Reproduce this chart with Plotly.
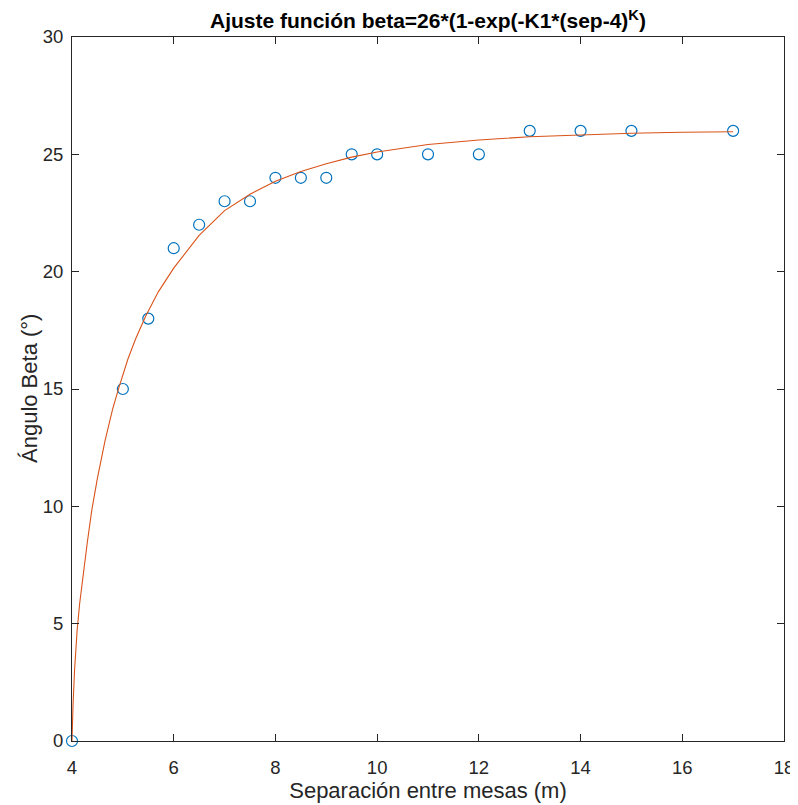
import plotly.graph_objects as go

# Measured data points
sep = [4, 5, 5.5, 6, 6.5, 7, 7.5, 8, 8.5, 9, 9.5, 10, 11, 12, 13, 14, 15, 17]
beta = [0, 15, 18, 21, 22, 23, 23, 24, 24, 24, 25, 25, 25, 25, 26, 26, 26, 26]

# Fitted curve, values
fit_x = [4.0, 4.005, 4.02, 4.05, 4.1, 4.15, 4.2, 4.3, 4.39, 4.5, 4.65, 4.8, 4.92,
         5.1, 5.25, 5.445, 5.7, 6.0, 6.5, 7.0, 7.5, 8.0, 8.5, 9.0, 9.5, 10.0,
         11.0, 12.0, 13.0, 14.0, 15.0, 16.0, 17.0]
fit_y = [0.0, 0.5, 1.5, 3.0, 4.7, 5.85, 6.8, 8.45, 9.85, 11.2, 12.8, 14.15, 15.05,
         16.28, 17.13, 18.09, 19.15, 20.15, 21.55, 22.6, 23.3, 23.85, 24.27, 24.6, 24.88, 25.1,
         25.42, 25.61, 25.75, 25.84, 25.9, 25.94, 25.96]

x_ticks = [4, 6, 8, 10, 12, 14, 16, 18]
y_ticks = [0, 5, 10, 15, 20, 25, 30]

FONT = "Arial, Liberation Sans, sans-serif"

# page has an 8px body margin; figure is sized to fit inside the window
W, H = 790, 797
L, R, T, B = 64, 14, 29, 64
plot_w = W - L - R

fig = go.Figure()
fig.add_trace(go.Scatter(
    x=sep, y=beta, mode="markers",
    marker=dict(symbol="circle-open", size=11, color="#0072BD", line=dict(width=1.2, color="#0072BD")),
    cliponaxis=False, showlegend=False))
fig.add_trace(go.Scatter(
    x=fit_x, y=fit_y, mode="lines",
    line=dict(color="#D95319", width=1.1),
    showlegend=False))

axis_common = dict(
    showgrid=False, zeroline=False, showline=True, linecolor="#262626", linewidth=1,
    mirror="ticks", ticks="inside", ticklen=7, tickcolor="#262626", tickwidth=1,
    tickfont=dict(family=FONT, size=18.5, color="#262626"),
    automargin=False,
)

fig.update_layout(
    width=W, height=H,
    margin=dict(l=L, r=R, t=T, b=B),
    paper_bgcolor="white", plot_bgcolor="white",
    title=dict(
        text="<b>Ajuste función beta=26*(1-exp(-K1*(sep-4)<sup>K</sup>)</b>",
        x=(L + W - R) / 2 / W, xanchor="center", y=1 - 13 / H, yanchor="middle",
        font=dict(family=FONT, size=21, color="#000000")),
    xaxis=dict(range=[4, 18], tickvals=x_ticks, ticklabelstandoff=10,
               title=dict(text="Separación entre mesas (m)", standoff=5,
                          font=dict(family=FONT, size=22, color="#262626")),
               **axis_common),
    yaxis=dict(range=[0, 30], tickvals=y_ticks, ticklabelstandoff=4,
               **axis_common),
    annotations=[dict(
        text="Ángulo Beta (°)", textangle=-90, showarrow=False,
        xref="paper", yref="paper", x=(21 - L) / plot_w, y=0.5,
        xanchor="center", yanchor="middle",
        font=dict(family=FONT, size=22, color="#262626"))],
)

fig.write_html("out.html")
